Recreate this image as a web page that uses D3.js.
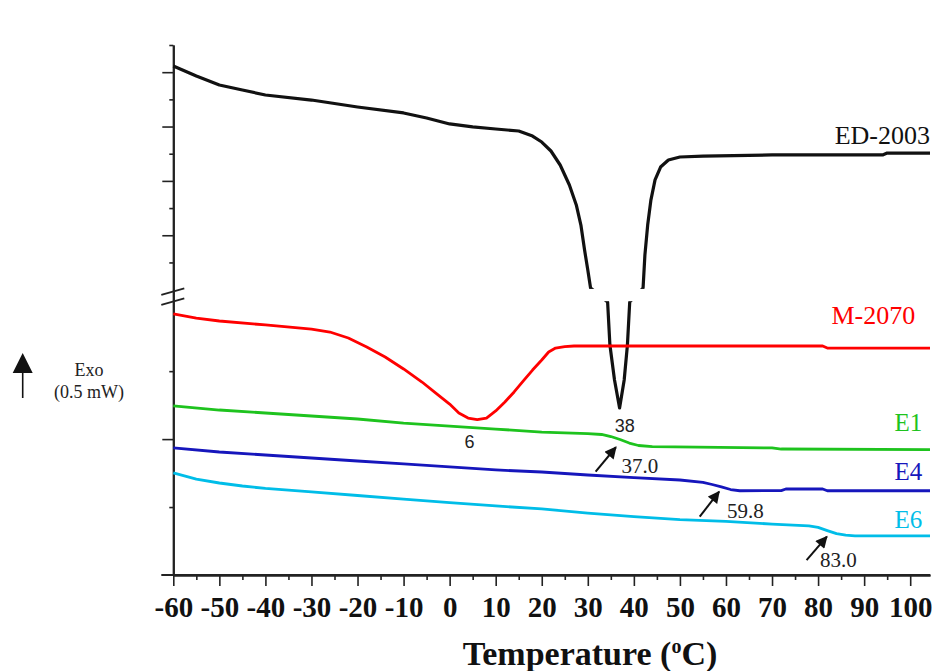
<!DOCTYPE html>
<html>
<head>
<meta charset="utf-8">
<script src="https://cdn.jsdelivr.net/npm/d3@7"></script>
<style>
  body { margin: 0; background: #fff; }
  svg { display: block; }
  text { font-family: "Liberation Serif", "Times New Roman", serif; }
</style>
</head>
<body>
<script>
// DSC traces, heat flow in offset units (0.5 per minor tick of the lower axis)
const ed2003 = [[-60,3.745],[-55,3.672],[-50,3.606],[-45,3.569],[-40,3.532],[-30,3.495],[-20,3.444],
  [-10,3.400],[-5,3.363],[0,3.319],[5,3.297],[10,3.282],[15,3.267],[18,3.230],[20,3.186],[22,3.120],
  [24,3.017],[26,2.870],[27.5,2.723],[28.5,2.575],[29.3,2.391],[30,2.244],[30.6,2.112],
  [34.3,2.009],[34.8,1.692],[35.8,1.435],[36.9,1.229],[37.9,1.435],[38.6,1.692],[39.1,2.009],
  [42.0,2.112],[42.4,2.355],[43.0,2.575],[43.7,2.759],[44.6,2.907],[45.8,3.002],[47.5,3.054],
  [50,3.076],[55,3.083],[70,3.091],[94,3.091],[95,3.105],[104.3,3.105]];
const m2070 = [[-60,1.921],[-55,1.891],[-50,1.869],[-40,1.840],[-30,1.810],[-26,1.788],[-22,1.744],
  [-18,1.678],[-14,1.604],[-10,1.516],[-6,1.420],[-3,1.339],[0,1.258],[2,1.192],[4,1.155],[6,1.144],
  [8,1.155],[10,1.207],[12,1.273],[14,1.347],[16,1.428],[18,1.508],[20,1.582],[21.5,1.641],[23,1.670],
  [25,1.681],[27,1.685],[81,1.685],[82,1.670],[104.3,1.670]];
const e1 = [[-60,1.244],[-50,1.214],[-40,1.192],[-30,1.170],[-20,1.148],[-10,1.118],[0,1.096],[10,1.074],
  [20,1.052],[30,1.041],[33,1.034],[35,1.019],[37,0.997],[39,0.971],[41,0.953],[44,0.944],[70,0.935],
  [72,0.927],[104.3,0.923]];
const e4 = [[-60,0.935],[-50,0.905],[-40,0.883],[-30,0.861],[-20,0.839],[-10,0.817],[0,0.795],[10,0.773],
  [20,0.758],[30,0.736],[40,0.717],[50,0.699],[55,0.681],[57,0.666],[59,0.648],[61,0.629],[63,0.620],
  [72,0.621],[73,0.633],[81,0.633],[82,0.620],[104.3,0.620]];
const e6 = [[-60,0.751],[-55,0.706],[-50,0.677],[-45,0.655],[-40,0.637],[-30,0.611],[-20,0.585],[-10,0.559],
  [0,0.533],[10,0.508],[20,0.486],[30,0.456],[40,0.430],[50,0.408],[60,0.394],[70,0.375],[78,0.361],
  [80,0.350],[82,0.327],[84,0.305],[86,0.294],[88,0.288],[104.3,0.288]];

const seriesData = [ed2003, m2070, e1, e4, e6];
const seriesNames = ["ED-2003", "M-2070", "E1", "E4", "E6"];
const seriesColors = ["#111111", "#ff0000", "#1ec31e", "#1616bc", "#00bde8"];
const labelPos = [[104.3, 3.171], [101.1, 1.847], [102.6, 1.058], [102.6, 0.700], [102.6, 0.344]];

const xMajor = d3.range(-60, 101, 10);
const xMinor = d3.range(-55, 100, 10);
const yMajor = [1.0, 2.5, 2.9, 3.3, 3.7];
const yMinor = [0.5, 1.5, 2.3, 2.7, 3.1, 3.5, 3.9];

// glass transitions (arrows) and melting peaks
const arrows = [
  {label: "37.0", from: [31.7, 0.760], to: [36.1, 0.940], at: [37.3, 0.751]},
  {label: "59.8", from: [54.3, 0.429], to: [58.5, 0.613], at: [60.2, 0.419]},
  {label: "83.0", from: [77.5, 0.110], to: [81.9, 0.282], at: [80.4, 0.059]}
];
const peaks = [{label: "6", at: [4.3, 0.935]}, {label: "38", at: [38.0, 1.054]}];

const breakLow = 2.015, breakHigh = 2.105, breakMid = 2.048;

const width = 932, height = 671;
const svg = d3.select("body").append("svg").attr("width", width).attr("height", height);

const x = d3.scaleLinear().domain([-60, 104.3]).range([173.3, 930]);
const y = d3.scaleLinear().domain([0, 3.9]).range([575, 45]);

const defs = svg.append("defs");
const mask = defs.append("mask").attr("id", "gap")
  .attr("maskUnits", "userSpaceOnUse").attr("x", 0).attr("y", 0)
  .attr("width", width).attr("height", height);
mask.append("rect").attr("width", width).attr("height", height).attr("fill", "#fff");
mask.append("rect").attr("y", y(breakHigh)).attr("width", width)
  .attr("height", y(breakLow) - y(breakHigh)).attr("fill", "#000");

defs.append("marker").attr("id", "head")
  .attr("viewBox", "0 0 10 10").attr("refX", 9).attr("refY", 5)
  .attr("markerUnits", "userSpaceOnUse").attr("markerWidth", 13).attr("markerHeight", 12)
  .attr("orient", "auto")
  .append("path").attr("d", "M0,0L10,5L0,10z").attr("fill", "#111");

// Axes
const xAxis = svg.append("g").attr("transform", "translate(0," + y(0) + ")")
  .call(d3.axisBottom(x).tickValues(xMajor).tickSize(11).tickSizeOuter(0).tickPadding(10).tickFormat(d => String(d)));
svg.append("g").attr("transform", "translate(0," + y(0) + ")")
  .call(d3.axisBottom(x).tickValues(xMinor).tickSize(5).tickSizeOuter(0).tickFormat(""));
xAxis.selectAll("text")
  .style("font-family", '"Liberation Serif", serif').style("font-weight", "bold")
  .style("font-size", "29px").attr("fill", "#111");

svg.append("g").attr("transform", "translate(" + x(-60) + ",0)")
  .call(d3.axisLeft(y).tickValues(yMajor).tickSize(11).tickSizeOuter(0).tickFormat(""));
svg.append("g").attr("transform", "translate(" + x(-60) + ",0)")
  .call(d3.axisLeft(y).tickValues(yMinor).tickSize(4).tickSizeOuter(0).tickFormat(""));

svg.append("line")
  .attr("x1", x(-60) - 12).attr("x2", x(104.3))
  .attr("y1", y(0)).attr("y2", y(0)).attr("stroke", "#222").attr("stroke-width", 2);

svg.selectAll(".domain").attr("stroke", "#222").attr("stroke-width", 2);
svg.selectAll(".tick line").attr("stroke", "#222").attr("stroke-width", 1.6);

// axis break
[-5, 5].forEach(off => {
  svg.append("line")
    .attr("x1", x(-60) - 12).attr("y1", y(breakMid) + off + 3.3)
    .attr("x2", x(-60) + 11).attr("y2", y(breakMid) + off - 3.3)
    .attr("stroke", "#222").attr("stroke-width", 1.8);
});

// Curves
const line = d3.line().x(d => x(d[0])).y(d => y(d[1]));
svg.append("g").selectAll("path")
  .data(seriesData)
  .enter().append("path")
  .attr("d", line)
  .attr("fill", "none")
  .attr("stroke", (d, i) => seriesColors[i])
  .attr("stroke-width", (d, i) => i === 0 ? 3.2 : 2.8)
  .attr("stroke-linejoin", "round")
  .attr("mask", (d, i) => i === 0 ? "url(#gap)" : null);

svg.append("g").selectAll("text")
  .data(seriesNames)
  .enter().append("text")
  .attr("x", (d, i) => x(labelPos[i][0]))
  .attr("y", (d, i) => y(labelPos[i][1]))
  .attr("text-anchor", "end")
  .attr("fill", (d, i) => seriesColors[i])
  .style("font-size", (d, i) => i < 2 ? "26px" : "25px")
  .text(d => d);

// Annotations
const ann = svg.append("g");
arrows.forEach(a => {
  ann.append("line")
    .attr("x1", x(a.from[0])).attr("y1", y(a.from[1]))
    .attr("x2", x(a.to[0])).attr("y2", y(a.to[1]))
    .attr("stroke", "#111").attr("stroke-width", 2)
    .attr("marker-end", "url(#head)");
  ann.append("text")
    .attr("x", x(a.at[0])).attr("y", y(a.at[1]))
    .attr("fill", "#222").style("font-size", "21px")
    .text(a.label);
});
peaks.forEach(p => {
  ann.append("text")
    .attr("x", x(p.at[0])).attr("y", y(p.at[1]))
    .attr("text-anchor", "middle")
    .attr("fill", "#222")
    .style("font-family", '"Liberation Sans", Arial, sans-serif').style("font-size", "18px")
    .text(p.label);
});

// Exo direction marker
const exo = svg.append("g");
exo.append("line").attr("x1", 22.7).attr("x2", 22.7).attr("y1", 398).attr("y2", 372)
  .attr("stroke", "#111").attr("stroke-width", 1.6);
exo.append("path").attr("d", "M12.7,373L22.7,353L32.7,373Z").attr("fill", "#111");
exo.append("text").attr("x", 89).attr("y", 376).attr("text-anchor", "middle")
  .attr("fill", "#222").style("font-size", "18px").text("Exo");
exo.append("text").attr("x", 89).attr("y", 398).attr("text-anchor", "middle")
  .attr("fill", "#222").style("font-size", "18px").text("(0.5 mW)");

// Title
const title = svg.append("text")
  .attr("x", 590).attr("y", 665).attr("text-anchor", "middle")
  .attr("fill", "#111")
  .style("font-weight", "bold").style("font-size", "34px");
title.append("tspan").text("Temperature (");
title.append("tspan").attr("dy", -12).style("font-size", "20px").text("o");
title.append("tspan").attr("dy", 12).text("C)");
</script>
</body>
</html>
